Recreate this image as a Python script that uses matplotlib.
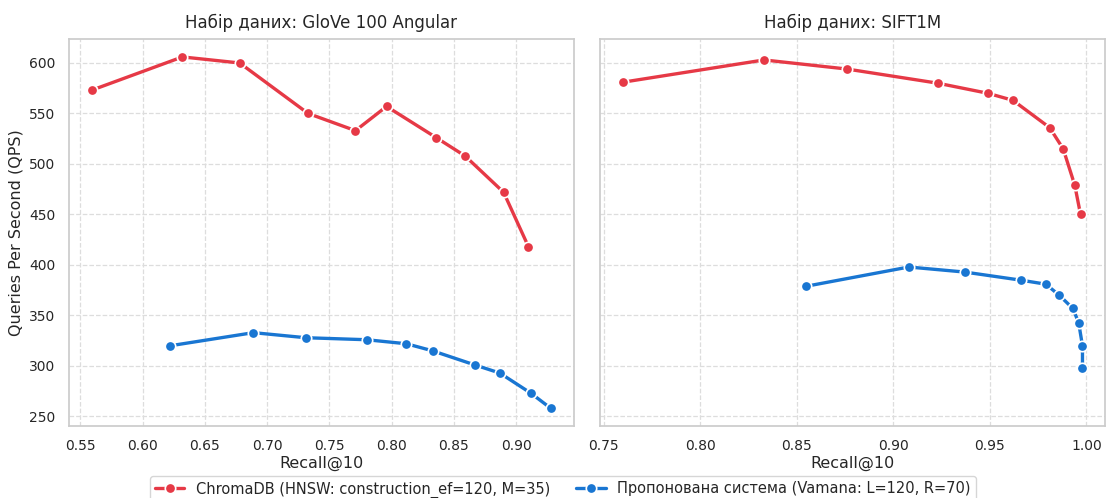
import numpy as np
import matplotlib
matplotlib.use("Agg")
import matplotlib.pyplot as plt
import seaborn as sns

# дані
glove_chroma_recall = [0.559, 0.632, 0.678, 0.733, 0.771, 0.796, 0.836, 0.859, 0.890, 0.910]
glove_chroma_qps = [573, 606, 600, 550, 533, 557, 526, 508, 472, 418]
glove_vamana_recall = [0.622, 0.689, 0.731, 0.780, 0.812, 0.833, 0.867, 0.887, 0.912, 0.928]
glove_vamana_qps = [320, 333, 328, 326, 322, 315, 301, 293, 273, 258]

sift_chroma_recall = [0.760, 0.833, 0.876, 0.923, 0.949, 0.962, 0.981, 0.988, 0.994, 0.997]
sift_chroma_qps = [581, 603, 594, 580, 570, 563, 536, 515, 479, 450]
sift_vamana_recall = [0.855, 0.908, 0.937, 0.966, 0.979, 0.986, 0.993, 0.996, 0.998, 0.998]
sift_vamana_qps = [379, 398, 393, 385, 381, 370, 357, 343, 320, 298]

titles = ["Набір даних: GloVe 100 Angular", "Набір даних: SIFT1M"]
label_chroma = "ChromaDB (HNSW: construction_ef=120, M=35)"
label_vamana = "Пропонована система (Vamana: L=120, R=70)"

sns.set_theme(style="whitegrid")
plt.rcParams['font.family'] = ['DejaVu Sans']

red = "#E63946"
blue = "#1976D2"

fig, axes = plt.subplots(1, 2, figsize=(11.06, 4.98), dpi=100, sharey=True)
fig.subplots_adjust(left=0.062, right=0.9995, bottom=0.1446, top=0.921, wspace=0.052)

data = [
    (glove_chroma_recall, glove_chroma_qps, glove_vamana_recall, glove_vamana_qps),
    (sift_chroma_recall, sift_chroma_qps, sift_vamana_recall, sift_vamana_qps),
]

for ax, title, (cr, cq, vr, vq) in zip(axes, titles, data):
    ax.plot(cr, cq, color=red, lw=2.4, marker='o', markersize=7.5,
            markeredgecolor='white', markeredgewidth=1.2, label=label_chroma)
    ax.plot(vr, vq, color=blue, lw=2.4, marker='o', markersize=7.5,
            markeredgecolor='white', markeredgewidth=1.2, label=label_vamana)
    ax.set_title(title, fontsize=12, color='#262626', pad=8)
    ax.set_xlabel("Recall@10", fontsize=11.5, labelpad=2)
    ax.grid(True, linestyle='--', color='#dddddd', linewidth=0.9)
    ax.tick_params(labelsize=10)
    for s in ax.spines.values():
        s.set_color('#cccccc')

axes[0].set_ylabel("Queries Per Second (QPS)", fontsize=11.5, labelpad=4)
axes[0].set_yticks([250, 300, 350, 400, 450, 500, 550, 600])

handles, labels = axes[0].get_legend_handles_labels()
fig.legend(handles, labels, loc='upper center', bbox_to_anchor=(0.509, 1 - 469 / 498),
           ncol=2, fontsize=10.5, frameon=True, handlelength=2.0,
           borderpad=0.35, columnspacing=1.8)

fig.savefig("out.png", dpi=100)
